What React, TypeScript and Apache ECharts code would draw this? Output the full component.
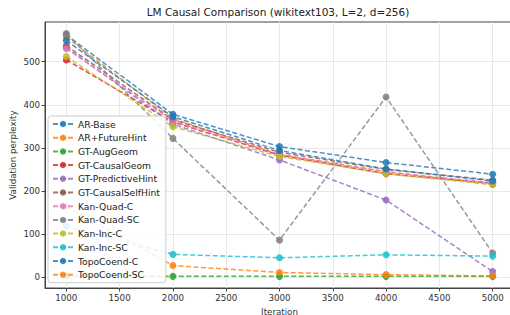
import React, { useEffect, useRef } from "react";
import * as echarts from "echarts";

const iterations = [1000, 2000, 3000, 4000, 5000];
const seriesNames = [
  "AR-Base",
  "AR+FutureHint",
  "GT-AugGeom",
  "GT-CausalGeom",
  "GT-PredictiveHint",
  "GT-CausalSelfHint",
  "Kan-Quad-C",
  "Kan-Quad-SC",
  "Kan-Inc-C",
  "Kan-Inc-SC",
  "TopoCoend-C",
  "TopoCoend-SC",
];
const arBase = [562, 378, 303, 266, 239];
const arFutureHint = [557, 368, 284, 245, 215];
const gtAugGeom = [3, 2, 2, 2, 2];
const gtCausalGeom = [504, 360, 283, 240, 218];
const gtPredictiveHint = [533, 355, 272, 179, 13];
const gtCausalSelfHint = [537, 365, 290, 250, 225];
const kanQuadC = [530, 362, 285, 244, 219];
const kanQuadSC = [565, 322, 86, 418, 56];
const kanIncC = [512, 349, 280, 240, 215];
const kanIncSC = [118, 53, 45, 52, 49];
const topoCoendC = [549, 372, 294, 251, 223];
const topoCoendSC = [164, 27, 11, 6, 3];

const seriesValues = [
  arBase,
  arFutureHint,
  gtAugGeom,
  gtCausalGeom,
  gtPredictiveHint,
  gtCausalSelfHint,
  kanQuadC,
  kanQuadSC,
  kanIncC,
  kanIncSC,
  topoCoendC,
  topoCoendSC,
];
const colors = [
  "#1f77b4",
  "#ff7f0e",
  "#2ca02c",
  "#d62728",
  "#9467bd",
  "#8c564b",
  "#e377c2",
  "#7f7f7f",
  "#bcbd22",
  "#17becf",
  "#1f77b4",
  "#ff7f0e",
];
const xTicks = [1000, 1500, 2000, 2500, 3000, 3500, 4000, 4500, 5000];
const yTicks = [0, 100, 200, 300, 400, 500];

const FONT = "DejaVu Sans";

export default function App() {
  const ref = useRef<HTMLDivElement>(null);
  useEffect(() => {
    if (!ref.current) return;
    const chart = echarts.init(ref.current, null, { renderer: "svg" });
    const series = seriesNames.map((name, i) => ({
      name,
      type: "line",
      data: iterations.map((x, j) => [x, seriesValues[i][j]]),
      symbol: "circle",
      symbolSize: 7,
      color: colors[i],
      lineStyle: { type: [5, 2.5], width: 1.5, opacity: 0.8 },
      itemStyle: { opacity: 0.85 },
      emphasis: { disabled: true },
    }));
    chart.setOption({
      animation: false,
      color: colors,
      textStyle: { fontFamily: FONT },
      grid: {
        left: 45,
        top: 22,
        width: 469,
        height: 266,
        outerBoundsMode: "none",
        containLabel: false,
        show: true,
        borderColor: "#444",
        borderWidth: 1,
        backgroundColor: "#fff",
      },
      graphic: [
        {
          type: "text",
          x: 278,
          y: 12,
          style: {
            text: "LM Causal Comparison (wikitext103, L=2, d=256)",
            textAlign: "center",
            textVerticalAlign: "middle",
            fontSize: 10.5,
            fontFamily: FONT,
            fill: "#222",
          },
        },
      ],
      xAxis: {
        type: "value",
        min: 800,
        max: 5200,
        name: "Iteration",
        nameLocation: "middle",
        nameGap: 19,
        nameMoveOverlap: false,
        nameTextStyle: { fontSize: 8.7, color: "#333", fontFamily: FONT },
        axisLine: { show: true, onZero: false, lineStyle: { color: "#444" } },
        axisTick: { show: true, length: 3.5, customValues: xTicks, lineStyle: { color: "#444" } },
        axisLabel: {
          customValues: xTicks,
          formatter: (v: number) => String(v),
          fontSize: 8.7,
          color: "#333",
          margin: 5,
          fontFamily: FONT,
        },
        splitLine: { show: true, lineStyle: { color: "#e8e8e8", width: 1 } },
      },
      yAxis: {
        type: "value",
        min: -25,
        max: 592,
        name: "Validation perplexity",
        nameLocation: "middle",
        nameGap: 28,
        nameMoveOverlap: false,
        nameRotate: 90,
        nameTextStyle: { fontSize: 8.7, color: "#333", fontFamily: FONT },
        axisLine: { show: true, onZero: false, lineStyle: { color: "#444" } },
        axisTick: { show: true, length: 3.5, customValues: yTicks, lineStyle: { color: "#444" } },
        axisLabel: {
          customValues: yTicks,
          formatter: (v: number) => String(v),
          fontSize: 8.7,
          color: "#333",
          margin: 5,
          fontFamily: FONT,
        },
        splitLine: { show: true, lineStyle: { color: "#e8e8e8", width: 1 } },
      },
      legend: {
        orient: "vertical",
        left: 48,
        top: 116,
        data: seriesNames,
        itemWidth: 20,
        itemHeight: 8,
        itemGap: 1.7,
        padding: [2, 6, 2, 4],
        backgroundColor: "rgba(255,255,255,0.85)",
        borderColor: "#ccc",
        borderWidth: 1,
        borderRadius: 3,
        textStyle: { fontSize: 9.2, color: "#222", lineHeight: 12, fontFamily: FONT },
      },
      series,
    });
    return () => chart.dispose();
  }, []);
  return (
    <div
      ref={ref}
      style={{ position: "fixed", left: 0, top: 0, width: 510, height: 315, background: "#fff" }}
    />
  );
}
